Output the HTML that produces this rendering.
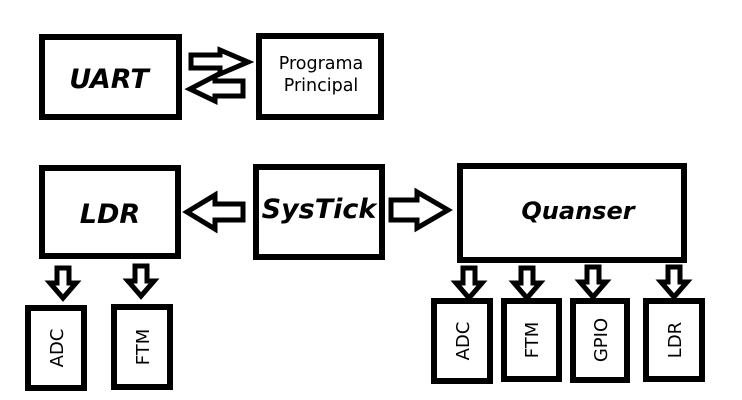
<!DOCTYPE html>
<html><head><style>body{margin:0;background:#fff}svg{display:block}</style></head><body>
<svg width="742" height="400" viewBox="0 0 742 400" xmlns="http://www.w3.org/2000/svg" font-family="'DejaVu Sans','Liberation Sans',sans-serif">
<defs>
<polygon id="d" points="-6,0 6,0 6,15 13,15 0,30 -13,15 -6,15" fill="#fff" stroke="#000" stroke-width="5"/>
</defs>
<g fill="none" stroke="#000" stroke-width="6">
<rect x="42" y="37" width="137" height="80"/>
<rect x="259" y="36" width="122" height="81"/>
<rect x="42" y="168" width="136" height="88"/>
<rect x="256" y="167" width="126" height="90"/>
<rect x="460" y="166" width="224" height="94"/>
<rect x="28" y="308" width="56" height="80"/>
<rect x="114" y="307" width="56" height="80"/>
<rect x="434" y="301" width="56" height="80"/>
<rect x="504" y="301" width="55" height="78"/>
<rect x="573" y="301" width="54" height="79"/>
<rect x="646" y="301" width="56" height="78"/>
</g>
<g fill="#fff" stroke="#000" stroke-width="5" stroke-linejoin="miter">
<polygon points="191,55 220,55 220,50 248,62 220,74 220,68 191,68"/>
<polygon points="243,81 215,81 215,76 190,89 215,101 215,96 243,96"/>
<polygon points="243,204 215,204 215,195 187,212 215,229 215,220 243,220"/>
<polygon points="391,200 417,200 417,192 448,210 417,228 417,220 391,220"/>
</g>
<use href="#d" transform="translate(63,268)"/>
<use href="#d" transform="translate(141,266)"/>
<use href="#d" transform="translate(469,268)"/>
<use href="#d" transform="translate(527,268)"/>
<use href="#d" transform="translate(593,267)"/>
<use href="#d" transform="translate(674,267)"/>
<g font-weight="bold" font-style="italic" text-anchor="middle" fill="#000">
<text x="109" y="88" font-size="27">UART</text>
<text x="110" y="223" font-size="27">LDR</text>
<text x="319" y="218" font-size="27">SysTick</text>
<text x="578" y="219" font-size="24">Quanser</text>
</g>
<g text-anchor="middle" font-size="17.5" fill="#000">
<text x="321" y="69">Programa</text>
<text x="321" y="91">Principal</text>
</g>
<g font-size="18" fill="#000" text-anchor="middle">
<text transform="translate(63,348) rotate(-90)">ADC</text>
<text transform="translate(149,347) rotate(-90)">FTM</text>
<text transform="translate(469,341) rotate(-90)">ADC</text>
<text transform="translate(538,340) rotate(-90)">FTM</text>
<text transform="translate(607,340) rotate(-90)">GPIO</text>
<text transform="translate(681,340) rotate(-90)">LDR</text>
</g>
</svg>
</body></html>
